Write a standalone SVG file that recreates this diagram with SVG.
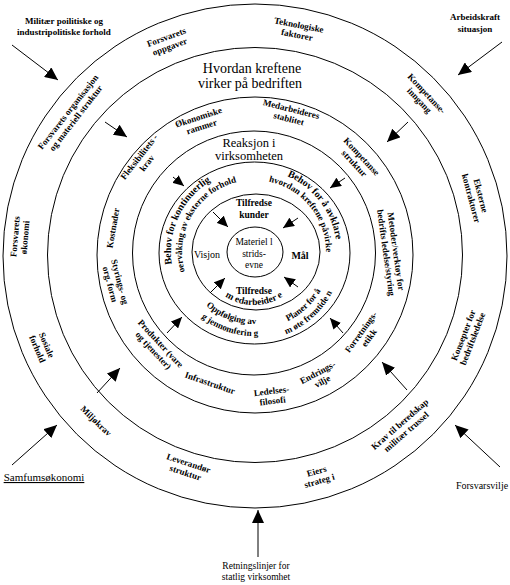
<svg xmlns="http://www.w3.org/2000/svg" width="510" height="585" viewBox="0 0 510 585" font-family="'Liberation Serif', 'Times New Roman', serif">
<style>
text{font-family:'Liberation Serif','Times New Roman',serif;fill:#000;text-anchor:middle}
.s{font-size:9px;font-weight:bold}
.m{font-size:10px}
.l{font-size:14px}
.ring{fill:none;stroke:#000;stroke-width:1}
.arr{stroke:#000;stroke-width:1;fill:none;marker-end:url(#ah)}
.arr2{stroke:#000;stroke-width:1;fill:none;marker-end:url(#ah2)}
</style>
<defs>
<marker id="ah" markerUnits="userSpaceOnUse" markerWidth="14" markerHeight="12" refX="13" refY="6" orient="auto"><path d="M0,0 L13,6 L0,12 z" fill="#000"/></marker>
<marker id="ah2" markerUnits="userSpaceOnUse" markerWidth="12" markerHeight="10" refX="11" refY="5" orient="auto"><path d="M0,0 L11,5 L0,10 z" fill="#000"/></marker>
<path id="p1" d="M190.4,305.4 A83,83 0 0 1 254,169"/>
<path id="p2" d="M195,293.3 A72,72 0 0 1 260.3,180.3"/>
<path id="p3" d="M239.6,170.3 A83,83 0 0 1 329.2,287.1"/>
<path id="p4" d="M241.5,181.1 A72,72 0 0 1 320.8,279"/>
<path id="p5" d="M183.1,264.5 A72,72 0 0 0 300.3,307.2"/>
<path id="p6" d="M171.8,269.5 A84,84 0 0 0 310.2,314.4"/>
<path id="p7" d="M231.2,326.6 A79,79 0 0 0 330,234.5"/>
<path id="p8" d="M226.5,336.6 A90,90 0 0 0 341,233.5"/>
<path id="p9" d="M208.1,278.5 A53,53 0 0 0 299.9,278.5"/>
</defs>

<g id="rings">
<circle class="ring" cx="255" cy="256" r="252"/>
<circle class="ring" cx="255" cy="255" r="207.5"/>
<circle class="ring" cx="255" cy="255" r="158"/>
<ellipse class="ring" cx="254" cy="253" rx="121.5" ry="122"/>
<ellipse class="ring" cx="254.5" cy="253" rx="95.5" ry="91"/>
<ellipse class="ring" cx="256" cy="252" rx="64" ry="58"/>
<ellipse class="ring" cx="255" cy="252" rx="28" ry="25"/>
</g>

<g id="connectors">
<line class="arr" x1="12" y1="45" x2="58" y2="80"/>
<line class="arr" x1="502" y1="42" x2="458" y2="75"/>
<line class="arr" x1="12" y1="465" x2="57" y2="425"/>
<line class="arr" x1="500" y1="467" x2="455" y2="425"/>
<line class="arr" x1="258" y1="557" x2="258" y2="510"/>
<line class="arr" x1="105" y1="122" x2="127" y2="137"/>
<line class="arr" x1="408" y1="122" x2="387" y2="142"/>
<line class="arr" x1="97" y1="393" x2="120" y2="368"/>
<line class="arr" x1="407" y1="390" x2="382" y2="362"/>
<line class="arr2" x1="173" y1="177" x2="184" y2="186"/>
<line class="arr2" x1="345" y1="178" x2="330" y2="188"/>
<line class="arr2" x1="167" y1="333" x2="182" y2="317"/>
<line class="arr2" x1="343" y1="333" x2="330" y2="318"/>
<line class="arr2" x1="213" y1="212" x2="228" y2="227"/>
<line class="arr2" x1="298" y1="218" x2="283" y2="228"/>
<line class="arr2" x1="210" y1="293" x2="225" y2="278"/>
<line class="arr2" x1="298" y1="287" x2="284" y2="277"/>
</g>

<g id="outer-labels">
<g id="militaer"><text class="s" x="64" y="24">Militær poilitiske og</text><text class="s" x="64" y="35">industripolitiske forhold</text></g>
<g id="arbeidskraft"><text class="s" x="475" y="20">Arbeidskraft</text><text class="s" x="475" y="32">situasjon</text></g>
<g id="samfunn"><text class="m" x="44" y="481" style="font-size:11px;text-decoration:underline">Samfumsøkonomi</text></g>
<g id="forsvarsvilje"><text class="m" x="482" y="489">Forsvarsvilje</text></g>
<g id="retningslinjer"><text class="s" x="256" y="569" style="font-weight:normal;font-size:9.5px">Retningslinjer for</text><text class="s" x="256" y="580" style="font-weight:normal;font-size:9.5px">statlig virksomhet</text></g>
</g>

<g id="ringA">
<g id="oppgaver" transform="translate(168,42) rotate(-20)"><text class="s" y="-2">Forsvarets</text><text class="s" y="8">oppgaver</text></g>
<g id="teknologiske" transform="translate(298,30) rotate(11)"><text class="s" y="-2">Teknologiske</text><text class="s" y="8">faktorer</text></g>
<g id="kompetanseinngang" transform="translate(423,97) rotate(47)"><text class="s" y="-2">Kompetanse-</text><text class="s" y="8">inngang</text></g>
<g id="eksterne" transform="translate(476,197) rotate(75)"><text class="s" y="-2">Eksterne</text><text class="s" y="8">kontraktorer</text></g>
<g id="konsepter" transform="translate(468,337) rotate(-69)"><text class="s" y="-2">Konsepter for</text><text class="s" y="8">bedriftsledelse</text></g>
<g id="krav" transform="translate(403,428) rotate(-41)"><text class="s" y="-2">Krav til beredskap</text><text class="s" y="8">militær trussel</text></g>
<g id="eiers" transform="translate(318,476) rotate(-16)"><text class="s" y="-2">Eiers</text><text class="s" y="8">strateg i</text></g>
<g id="leverandor" transform="translate(187,468) rotate(18)"><text class="s" y="-2">Leverandør</text><text class="s" y="8">struktur</text></g>
<g id="miljo" transform="translate(96,421) rotate(44)"><text class="s" y="3">Miljøkrav</text></g>
<g id="sosiale" transform="translate(42,347) rotate(67)"><text class="s" y="-2">Sosiale</text><text class="s" y="8">forhold</text></g>
<g id="okonomi" transform="translate(20,237) rotate(-85)"><text class="s" y="-2">Forsvarets</text><text class="s" y="8">økonomi</text></g>
<g id="organisasjon" transform="translate(72,115) rotate(-52)"><text class="s" y="-2">Forsvarets organisasjon</text><text class="s" y="8">og materiell struktur</text></g>
</g>

<g id="ringB">
<g id="hvordan"><text class="l" x="252" y="73">Hvordan kreftene</text><text class="l" x="250" y="88">virker på bedriften</text></g>
</g>

<g id="ringC">
<g id="okonomiske" transform="translate(200,122) rotate(-18)"><text class="s" y="-2">Økonomiske</text><text class="s" y="8">rammer</text></g>
<g id="medarbeideres" transform="translate(290,114) rotate(14)"><text class="s" y="-2">Medarbeideres</text><text class="s" y="8">stablitet</text></g>
<g id="kompetansestruktur" transform="translate(358,160) rotate(47)"><text class="s" y="-2">Kompetanse</text><text class="s" y="8">struktur</text></g>
<g id="fleksibilitet" transform="translate(143,160) rotate(-52)"><text class="s" y="-2">Fleksibilitets -</text><text class="s" y="8">krav</text></g>
<g id="kostnader" transform="translate(113,228) rotate(-80)"><text class="s" y="3">Kostnader</text></g>
<g id="styrings" transform="translate(115,283) rotate(75)"><text class="s" y="-2">Styrings- og</text><text class="s" y="8">org. form</text></g>
<g id="produkter" transform="translate(157,347) rotate(47)"><text class="s" y="-2">Produkter (vare</text><text class="s" y="8">og tjenester)</text></g>
<g id="infrastruktur" transform="translate(210,383) rotate(19)"><text class="s" y="3">Infrastruktur</text></g>
<g id="ledelses" transform="translate(272,396) rotate(-7)"><text class="s" y="-2">Ledelses-</text><text class="s" y="8">filosofi</text></g>
<g id="endrings" transform="translate(320,377) rotate(-28)"><text class="s" y="-2">Endrings-</text><text class="s" y="8">vilje</text></g>
<g id="forretnings" transform="translate(365,335) rotate(-54)"><text class="s" y="-2">Forretnings-</text><text class="s" y="8">etikk</text></g>
<g id="metoder" transform="translate(391,252) rotate(82)"><text class="s" y="-2">Metoder/verktøy for</text><text class="s" y="8">bedrifts ledelse/styring</text></g>
</g>

<g id="ringD">
<g id="reaksjon"><text x="249" y="147" style="font-size:12.5px">Reaksjon i</text><text x="249" y="160" style="font-size:12.5px">virksomheten</text></g>
</g>

<g id="ringE">
<g id="behov1"><text class="s" style="font-size:10px"><textPath href="#p1" startOffset="50%">Behov for kontinuerlig</textPath></text><text class="s"><textPath href="#p2" startOffset="50%">oervåking av eksterne forhold</textPath></text></g>
<g id="behov2"><text class="s" style="font-size:10px"><textPath href="#p3" startOffset="50%">Behov for å avklare</textPath></text><text class="s"><textPath href="#p4" startOffset="50%">hvordan kreftene påvirke</textPath></text></g>
<g id="oppfolging"><text class="s"><textPath href="#p5" startOffset="50%">Oppfølging av</textPath></text><text class="s"><textPath href="#p6" startOffset="50%">g jennomferin g</textPath></text></g>
<g id="planer"><text class="s"><textPath href="#p7" startOffset="50%">Planer for å</textPath></text><text class="s"><textPath href="#p8" startOffset="50%">m øte fremtide n</textPath></text></g>
</g>

<g id="ringF">
<g id="kunder"><text class="s" x="254" y="206" style="font-size:9.5px">Tilfredse</text><text class="s" x="254" y="218" style="font-size:9.5px">kunder</text></g>
<g id="visjon"><text class="m" x="207" y="258">Visjon</text></g>
<g id="maal"><text class="m" x="300" y="259" style="font-weight:bold">Mål</text></g>
<g id="medarbeidere"><text class="s" x="254" y="294" style="font-size:9.5px">Tilfredse</text><text class="s" style="font-size:9.5px"><textPath href="#p9" startOffset="50%">m edarbeider e</textPath></text></g>
</g>

<g id="center">
<text class="s" x="254" y="245" style="font-size:9.5px;font-weight:normal">Materiel l</text>
<text class="s" x="254" y="257" style="font-size:9.5px;font-weight:normal">strids-</text>
<text class="s" x="254" y="268" style="font-size:9.5px;font-weight:normal">evne</text>
</g>
</svg>
